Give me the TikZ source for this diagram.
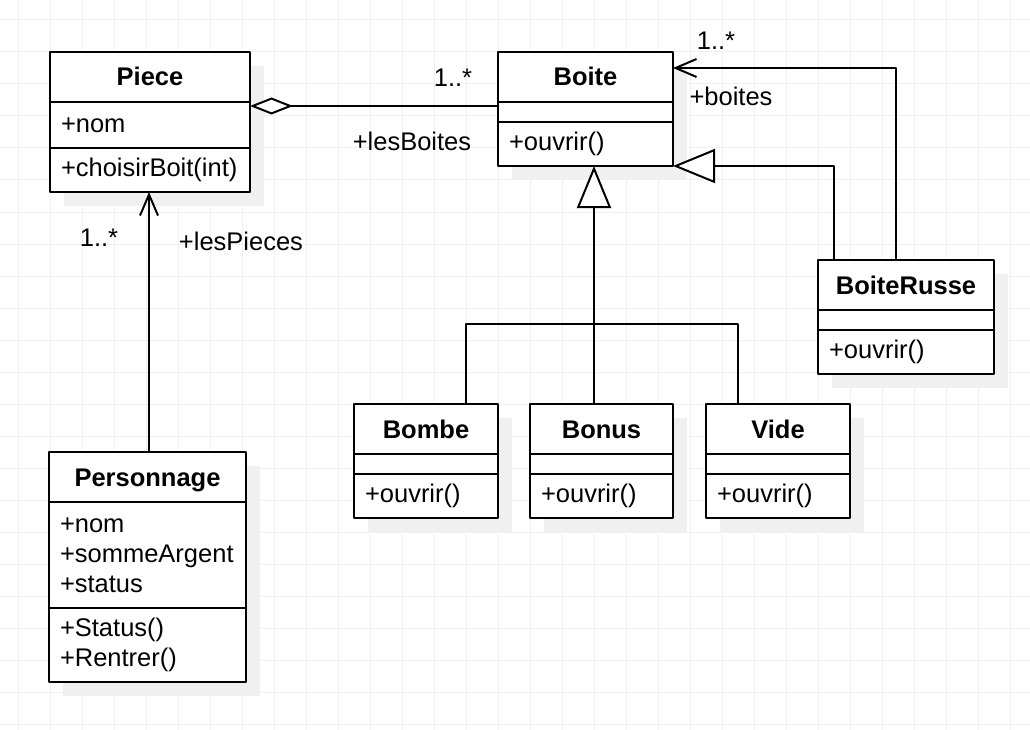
\documentclass[tikz,border=0pt]{standalone}
\usepackage{fontspec}
\setmainfont{Liberation Sans}
\usetikzlibrary{positioning,arrows.meta,shadows}

\begin{document}
\begin{tikzpicture}[x=1pt, y=-1pt, line join=round,
	font=\fontsize{25.5}{30}\selectfont,
	lop/.style={draw, line width=2pt, fill=white, outer sep=0pt, inner xsep=11pt, inner ysep=0pt,
		drop shadow={shadow xshift=14pt, shadow yshift=-14pt, fill=black!6, opacity=1}},
	ten/.style={lop, minimum height=50pt, text height=18pt, text depth=0pt, align=center,
		font=\fontsize{25.5}{30}\selectfont\bfseries},
	phan/.style={lop, align=left},
	luoi/.style={black!6, line width=1pt},
	lk/.style={line width=2pt},
	mo/.style={-{Straight Barb[length=21pt, width=18pt]}},
	ke/.style={-{Triangle[length=42pt, width=34pt, fill=white]}}]
	%% Khung và lưới
	\useasboundingbox [fill=white] (0,0) rectangle (1030,730);
	\foreach \x in {18,50,...,1010} \draw [luoi] (\x,0)--(\x,730);
	\foreach \y in {20,52,...,724} \draw [luoi] (0,\y)--(1030,\y);
	%% Các lớp
	\node [ten, text width=178pt, anchor=north west] (piece-h) at (50,52) {Piece};
	\node [phan, text width=178pt, minimum height=46pt, below=0pt of piece-h] (piece-a) {+nom};
	\node [phan, text width=178pt, minimum height=44pt, below=0pt of piece-a] (piece-m) {+choisirBoit(int)};
	\node [ten, text width=153pt, anchor=north west] (boite-h) at (498,52) {Boite};
	\node [phan, text width=153pt, minimum height=20pt, below=0pt of boite-h] (boite-a) {};
	\node [phan, text width=153pt, minimum height=44pt, below=0pt of boite-a] (boite-m) {+ouvrir()};
	\node [ten, text width=154pt, anchor=north west] (br-h) at (818,260) {BoiteRusse};
	\node [phan, text width=154pt, minimum height=20pt, below=0pt of br-h] (br-a) {};
	\node [phan, text width=154pt, minimum height=44pt, below=0pt of br-a] (br-m) {+ouvrir()};
	\node [ten, text width=122pt, anchor=north west] (bombe-h) at (354,404) {Bombe};
	\node [phan, text width=122pt, minimum height=20pt, below=0pt of bombe-h] (bombe-a) {};
	\node [phan, text width=122pt, minimum height=44pt, below=0pt of bombe-a] (bombe-m) {+ouvrir()};
	\node [ten, text width=121pt, anchor=north west] (bonus-h) at (530,404) {Bonus};
	\node [phan, text width=121pt, minimum height=20pt, below=0pt of bonus-h] (bonus-a) {};
	\node [phan, text width=121pt, minimum height=44pt, below=0pt of bonus-a] (bonus-m) {+ouvrir()};
	\node [ten, text width=122pt, anchor=north west] (vide-h) at (706,404) {Vide};
	\node [phan, text width=122pt, minimum height=20pt, below=0pt of vide-h] (vide-a) {};
	\node [phan, text width=122pt, minimum height=44pt, below=0pt of vide-a] (vide-m) {+ouvrir()};
	\node [ten, text width=175pt, anchor=north west] (pers-h) at (49,452) {Personnage};
	\node [phan, text width=175pt, minimum height=106pt, below=0pt of pers-h] (pers-a) {+nom\\+sommeArgent\\+status};
	\node [phan, text width=175pt, minimum height=74pt, below=0pt of pers-a] (pers-m) {+Status()\\+Rentrer()};
	%% Các liên kết
	\draw [lk, {Diamond[length=43pt, width=17pt, fill=white]}-] ([yshift=-4pt]piece-a.north east)
		-- ([yshift=-4pt]piece-a.north east -| boite-a.west);
	\draw [lk, mo] ([xshift=1.5pt]pers-h.north) -- ([xshift=1.5pt]pers-h.north |- piece-m.south);
	\draw [lk, mo] ([xshift=-10pt]br-h.north) |- ([yshift=-16pt]boite-h.north east);
	\draw [lk, ke] ([xshift=-72pt]br-h.north) |- (boite-m.south east);
	\coordinate (re) at ([xshift=-7.5pt, yshift=80pt]bonus-h.north);
	\draw [lk, ke] ([xshift=-7.5pt]bonus-h.north) -- (re |- boite-m.south);
	\draw [lk] ([xshift=40pt]bombe-h.north) |- (re) -| ([xshift=-40pt]vide-h.north);
	%% Nhãn
	\node (sl-boite) at (453,78) {1..*};
	\node (vt-boite) at (412,141) {+lesBoites};
	\node (sl-piece) at (99,238) {1..*};
	\node (vt-piece) at (241,241) {+lesPieces};
	\node (sl-br) at (716,41) {1..*};
	\node (vt-br) at (731,96) {+boites};
\end{tikzpicture}
\end{document}
